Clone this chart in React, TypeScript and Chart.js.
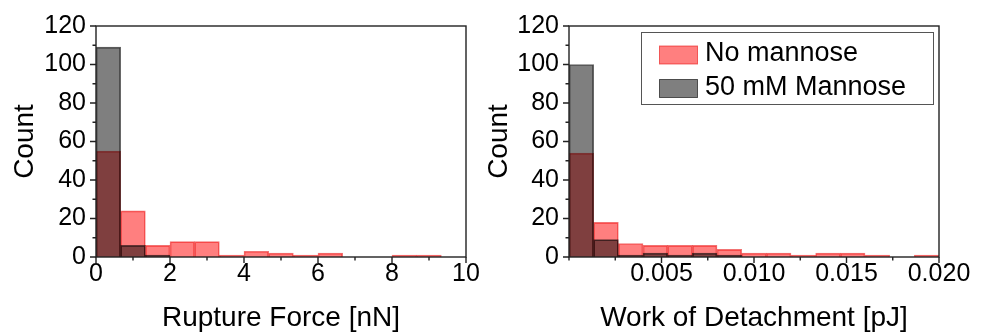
import React, { useEffect, useRef } from 'react';
import { Chart, registerables } from 'chart.js';

Chart.register(...registerables);

// ---------- data ----------
const seriesLabels = ['No mannose', '50 mM Mannose'];

// Rupture force histogram: 15 bins over 0..10 nN
const forceRange = [0, 10];
const forceNoMannose = [55, 24, 6, 8, 8, 1, 3, 2, 1, 2, 0, 0, 1, 1, 0];
const forceMannose = [109, 6, 1, 0, 0, 0, 0, 0, 0, 0, 0, 0, 0, 0, 0];
const forceTickLabels = ['0', '2', '4', '6', '8', '10'];

// Work of detachment histogram: 15 bins over 0..0.020 pJ
const workRange = [0, 0.02];
const workNoMannose = [54, 18, 7, 6, 6, 6, 4, 2, 2, 1, 2, 2, 1, 0, 1];
const workMannose = [100, 9, 1, 2, 1, 2, 1, 0, 0, 0, 0, 0, 0, 0, 0];
const workTickLabels = ['0.005', '0.010', '0.015', '0.020'];

const countTickLabels = ['0', '20', '40', '60', '80', '100', '120'];
const countRange = [0, 120];

const FONT = "'Liberation Sans', Arial, Helvetica, sans-serif";
const RED_FILL = 'rgba(255,0,0,0.5)';
const RED_BORDER = 'rgba(230,0,0,0.55)';
const GRAY_FILL = 'rgba(0,0,0,0.5)';
const GRAY_BORDER = 'rgba(0,0,0,0.6)';

function centers(values: number[], range: number[]) {
  const w = (range[1] - range[0]) / values.length;
  return values.map((_, i) => range[0] + (i + 0.5) * w);
}

const frameTicksPlugin = {
  id: 'frameTicks',
  afterDraw(chart: any) {
    const { ctx, chartArea } = chart;
    const { left, right, top, bottom } = chartArea;
    ctx.save();
    ctx.strokeStyle = '#222';
    ctx.lineWidth = 1.4;
    const xs = chart.scales.x;
    const ys = chart.scales.y;
    ctx.beginPath();
    for (const t of xs.ticks) {
      const px = xs.getPixelForValue(t.value);
      const len = t.label !== '' ? 6 : 3.5;
      ctx.moveTo(px, bottom);
      ctx.lineTo(px, bottom + len);
    }
    for (const t of ys.ticks) {
      const py = ys.getPixelForValue(t.value);
      const len = t.label !== '' ? 6 : 3.5;
      ctx.moveTo(left, py);
      ctx.lineTo(left - len, py);
    }
    ctx.stroke();
    ctx.strokeRect(left, top, right - left, bottom - top);
    ctx.restore();
  },
};

const legendPlugin = {
  id: 'boxLegend',
  afterDraw(chart: any, _args: any, opts: any) {
    if (!opts || !opts.show) return;
    const { ctx, chartArea } = chart;
    const w = 292;
    const h = 72;
    const bx = chartArea.right - 6 - w;
    const by = chartArea.top + 6;
    ctx.save();
    ctx.fillStyle = '#fff';
    ctx.fillRect(bx, by, w, h);
    ctx.strokeStyle = '#555';
    ctx.lineWidth = 1;
    ctx.strokeRect(bx + 0.5, by + 0.5, w, h);
    const ds = chart.data.datasets;
    const rows = [21.5, 55.5];
    const swatchRows = [23, 56.5];
    ds.forEach((d: any, i: number) => {
      const sy = by + swatchRows[i] - 9;
      ctx.fillStyle = d.backgroundColor;
      ctx.fillRect(bx + 18.5, sy, 38, 18);
      ctx.strokeStyle = d.borderColor;
      ctx.lineWidth = 1;
      ctx.strokeRect(bx + 18.5, sy, 38, 18);
      ctx.fillStyle = '#000';
      ctx.font = `27px ${FONT}`;
      ctx.textBaseline = 'middle';
      ctx.textAlign = 'left';
      ctx.fillText(d.label, bx + 64, by + rows[i]);
    });
    ctx.restore();
  },
};

type HistProps = {
  width: number;
  left: number;
  yAxisWidth: number;
  rightPad: number;
  countTitlePad: number;
  xRange: number[];
  xStep: number;
  xLabels: string[];
  xFormat: (v: number) => string;
  xTitle: string;
  red: number[];
  gray: number[];
  showLegend: boolean;
};

function Histogram(p: HistProps) {
  const ref = useRef<HTMLCanvasElement | null>(null);
  useEffect(() => {
    if (!ref.current) return;
    const xc = centers(p.red, p.xRange);
    const chart = new Chart(ref.current, {
      type: 'bar',
      data: {
        datasets: [
          {
            label: seriesLabels[0],
            data: xc.map((x, i) => ({ x, y: p.red[i] === 0 ? null : p.red[i] })),
            backgroundColor: RED_FILL,
            borderColor: RED_BORDER,
            borderWidth: 1,
            order: 1,
            grouped: false,
            barPercentage: 1,
            categoryPercentage: 1,
          } as any,
          {
            label: seriesLabels[1],
            data: xc.map((x, i) => ({ x, y: p.gray[i] === 0 ? null : p.gray[i] })),
            backgroundColor: GRAY_FILL,
            borderColor: GRAY_BORDER,
            borderWidth: 1,
            order: 0,
            grouped: false,
            barPercentage: 1,
            categoryPercentage: 1,
          } as any,
        ],
      },
      options: {
        responsive: false,
        animation: false,
        layout: { padding: { left: 0, top: 26, right: p.rightPad, bottom: 0 } },
        plugins: {
          legend: { display: false },
          tooltip: { enabled: false },
          boxLegend: { show: p.showLegend },
        } as any,
        scales: {
          x: {
            type: 'linear',
            min: p.xRange[0],
            max: p.xRange[1],
            offset: false,
            grid: { display: false, drawTicks: false, offset: false },
            border: { display: false },
            ticks: {
              stepSize: p.xStep,
              autoSkip: false,
              maxRotation: 0,
              padding: 2,
              color: '#000',
              font: { family: FONT, size: 25 },
              callback: (v: any) => {
                const s = p.xFormat(Number(v));
                return p.xLabels.includes(s) ? s : '';
              },
            },
            title: {
              display: true,
              text: p.xTitle,
              color: '#000',
              font: { family: FONT, size: 28 },
              padding: { top: 0, bottom: 0 },
            },
            afterFit: (s: any) => {
              s.height = 78;
            },
          },
          y: {
            type: 'linear',
            min: countRange[0],
            max: countRange[1],
            grid: { display: false, drawTicks: false },
            border: { display: false },
            ticks: {
              stepSize: 10,
              autoSkip: false,
              padding: 10,
              color: '#000',
              font: { family: FONT, size: 25 },
              callback: (v: any) => {
                const s = String(v);
                return countTickLabels.includes(s) ? s : '';
              },
            },
            title: {
              display: true,
              text: 'Count',
              color: '#000',
              font: { family: FONT, size: 28 },
              padding: { top: p.countTitlePad, bottom: 0 },
            },
            afterFit: (s: any) => {
              s.width = p.yAxisWidth;
            },
          },
        },
      } as any,
      plugins: [frameTicksPlugin, legendPlugin],
    });
    return () => chart.destroy();
  }, []);
  return (
    <canvas
      ref={ref}
      width={p.width}
      height={335}
      style={{ position: 'absolute', left: p.left, top: 0, width: p.width, height: 335 }}
    />
  );
}

export default function App() {
  useEffect(() => {
    document.body.style.margin = '0';
    document.body.style.background = '#fff';
  }, []);
  return (
    <div style={{ position: 'relative', width: 988, height: 335, background: '#fff', overflow: 'hidden' }}>
      <Histogram
        width={494}
        left={0}
        yAxisWidth={96}
        rightPad={28}
        countTitlePad={8}
        xRange={forceRange}
        xStep={1}
        xLabels={forceTickLabels}
        xFormat={(v) => String(Math.round(v * 1000) / 1000)}
        xTitle="Rupture Force [nN]"
        red={forceNoMannose}
        gray={forceMannose}
        showLegend={false}
      />
      <Histogram
        width={508}
        left={480}
        yAxisWidth={89}
        rightPad={49}
        countTitlePad={2}
        xRange={workRange}
        xStep={0.0025}
        xLabels={workTickLabels}
        xFormat={(v) => v.toFixed(3)}
        xTitle="Work of Detachment [pJ]"
        red={workNoMannose}
        gray={workMannose}
        showLegend={true}
      />
    </div>
  );
}
